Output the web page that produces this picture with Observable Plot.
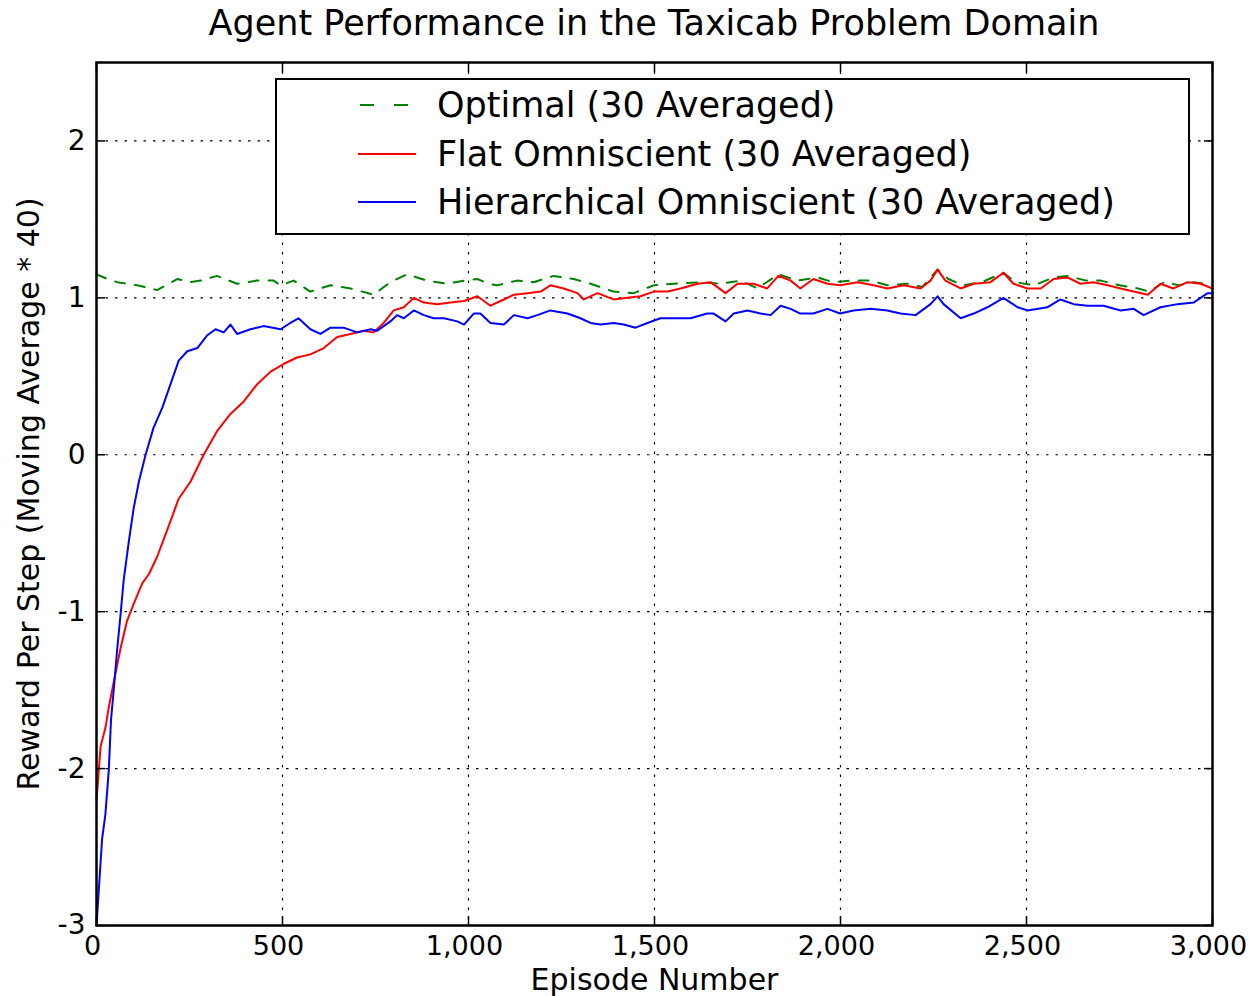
<!DOCTYPE html>
<html>
<head>
<meta charset="utf-8">
<script src="https://cdn.jsdelivr.net/npm/d3@7"></script>
<script src="https://cdn.jsdelivr.net/npm/@observablehq/plot@0.6"></script>
<style>
  html, body { margin: 0; padding: 0; background: #fff; }
  #wrap { position: relative; width: 1249px; height: 996px; font-family: "DejaVu Sans", sans-serif; color: #000; }
  #title { position: absolute; left: 96px; width: 1116px; top: 6px; text-align: center; font-size: 35px; line-height: 1; }
  #chart { position: absolute; left: 0; top: 48px; }
  #legend { position: absolute; left: 275px; top: 78px; width: 915px; height: 157px; box-sizing: border-box; border: 2px solid #000; background: #fff; }
  .row { position: absolute; left: 0; height: 40px; width: 100%; }
  .row svg { position: absolute; left: 81px; top: 0; }
  .row span { position: absolute; left: 160px; top: 0; height: 40px; line-height: 40px; font-size: 35px; white-space: nowrap; }
</style>
</head>
<body>
<div id="wrap">
  <div id="title">Agent Performance in the Taxicab Problem Domain</div>
  <div id="chart"></div>
  <div id="legend"></div>
</div>
<script>
// ---- data ----
const xTicks = [0, 500, 1000, 1500, 2000, 2500, 3000];
const yTicks = [-3, -2, -1, 0, 1, 2];

const seriesNames = ["Optimal (30 Averaged)", "Flat Omniscient (30 Averaged)", "Hierarchical Omniscient (30 Averaged)"];
const seriesColors = ["#008000", "#ff0000", "#0000ff"];

const optimalEpisodes = [0,30,56,109,163,217,250,280,324,378,432,476,495,530,575,629,683,745,790,835,889,943,988,1024,1054,1077,1131,1175,1229,1283,1328,1390,1444,1498,1551,1624,1677,1731,1777,1833,1884,1938,1980,2030,2080,2126,2180,2220,2261,2290,2330,2380,2438,2470,2520,2573,2610,2660,2700,2750,2800,2830,2870,2910,2950,3000];
const optimalValues = [1.15,1.12,1.10,1.08,1.05,1.12,1.10,1.11,1.14,1.09,1.11,1.11,1.08,1.11,1.04,1.08,1.06,1.02,1.10,1.15,1.11,1.09,1.11,1.12,1.09,1.08,1.11,1.10,1.14,1.12,1.09,1.04,1.03,1.08,1.09,1.10,1.09,1.11,1.06,1.15,1.11,1.13,1.10,1.11,1.11,1.08,1.09,1.07,1.18,1.12,1.08,1.10,1.16,1.10,1.08,1.13,1.14,1.11,1.11,1.08,1.06,1.04,1.10,1.08,1.10,1.08];

const flatEpisodes = [0,2,11,24,33,47,65,82,100,123,141,163,190,221,253,288,324,360,396,432,468,504,539,575,611,647,683,718,745,772,799,826,853,880,916,952,988,1024,1059,1086,1122,1159,1194,1220,1256,1293,1310,1347,1390,1427,1462,1498,1535,1570,1616,1651,1691,1723,1766,1803,1833,1866,1892,1927,1965,1999,2046,2089,2126,2170,2215,2242,2261,2282,2323,2358,2403,2438,2465,2503,2538,2573,2610,2645,2680,2718,2753,2788,2826,2860,2895,2933,2968,3000];
const flatValues = [-2.20,-2.14,-1.86,-1.74,-1.61,-1.44,-1.23,-1.06,-0.95,-0.82,-0.76,-0.65,-0.48,-0.28,-0.17,0.00,0.15,0.26,0.34,0.45,0.53,0.58,0.62,0.64,0.68,0.75,0.77,0.79,0.78,0.84,0.92,0.94,1.00,0.97,0.96,0.97,0.98,1.01,0.95,0.98,1.02,1.03,1.04,1.08,1.06,1.03,0.99,1.03,0.99,1.00,1.01,1.04,1.04,1.06,1.09,1.10,1.03,1.09,1.09,1.06,1.14,1.11,1.06,1.12,1.09,1.08,1.10,1.08,1.06,1.08,1.06,1.11,1.18,1.11,1.06,1.09,1.10,1.16,1.09,1.06,1.06,1.12,1.13,1.09,1.10,1.08,1.06,1.04,1.02,1.09,1.06,1.10,1.09,1.06];

const hierEpisodes = [0,15,24,33,39,47,56,65,73,87,100,114,132,153,177,199,221,244,271,297,320,342,360,378,414,449,495,521,543,575,602,629,664,701,737,754,790,808,826,853,880,906,934,970,988,1014,1032,1059,1095,1122,1159,1185,1220,1266,1301,1328,1355,1390,1417,1449,1481,1516,1551,1597,1642,1659,1691,1713,1750,1785,1812,1839,1866,1892,1927,1965,1999,2035,2081,2126,2161,2202,2242,2261,2277,2323,2358,2395,2438,2476,2503,2556,2591,2627,2664,2707,2753,2788,2815,2860,2906,2949,2987,3000];
const hierValues = [-3.00,-2.45,-2.29,-2.01,-1.69,-1.48,-1.23,-1.01,-0.80,-0.55,-0.34,-0.17,0.00,0.17,0.30,0.45,0.60,0.66,0.68,0.76,0.80,0.78,0.83,0.77,0.80,0.82,0.80,0.84,0.87,0.80,0.77,0.81,0.81,0.78,0.80,0.79,0.85,0.89,0.87,0.92,0.89,0.87,0.87,0.85,0.83,0.90,0.90,0.84,0.83,0.89,0.87,0.89,0.92,0.90,0.87,0.84,0.83,0.84,0.83,0.81,0.84,0.87,0.87,0.87,0.90,0.90,0.85,0.90,0.92,0.90,0.89,0.95,0.93,0.90,0.90,0.93,0.90,0.92,0.93,0.92,0.90,0.89,0.96,1.01,0.96,0.87,0.90,0.94,1.00,0.94,0.92,0.94,0.99,0.96,0.95,0.95,0.92,0.93,0.89,0.94,0.96,0.97,1.03,1.03];

const xLabel = "Episode Number";
const yLabel = "Reward Per Step (Moving Average * 40)";

// ---- build tables ----
const toRows = (eps, vals) => eps.map((e, i) => ({episode: e, value: vals[i]}));
const optimal = toRows(optimalEpisodes, optimalValues);
const flat = toRows(flatEpisodes, flatValues);
const hier = toRows(hierEpisodes, hierValues);

const dashOpt = "10,10";
const TICK = 9;
const noLabel = () => "";

const chart = Plot.plot({
  width: 1249,
  height: 948,
  marginLeft: 96,
  marginRight: 37,
  marginTop: 14,
  marginBottom: 71,
  style: {fontFamily: "DejaVu Sans, sans-serif", color: "#000", background: "#fff", overflow: "visible"},
  x: {domain: [0, 3000]},
  y: {domain: [-3, 2.5]},
  marks: [
    Plot.gridX(xTicks, {stroke: "#000", strokeOpacity: 1, strokeWidth: 1.2, strokeDasharray: "2.5,7"}),
    Plot.gridY(yTicks, {stroke: "#000", strokeOpacity: 1, strokeWidth: 1.2, strokeDasharray: "2.5,7"}),
    Plot.line(optimal, {x: "episode", y: "value", stroke: seriesColors[0], strokeWidth: 2, strokeDasharray: dashOpt}),
    Plot.line(flat, {x: "episode", y: "value", stroke: seriesColors[1], strokeWidth: 2}),
    Plot.line(hier, {x: "episode", y: "value", stroke: seriesColors[2], strokeWidth: 2}),
    // inward tick marks on all four sides
    Plot.axisX(xTicks, {anchor: "bottom", tickSize: -TICK, tickFormat: noLabel, label: null, strokeWidth: 1.5}),
    Plot.axisX(xTicks, {anchor: "top", tickSize: -TICK, tickFormat: noLabel, label: null, strokeWidth: 1.5}),
    Plot.axisY(yTicks, {anchor: "left", tickSize: -TICK, tickFormat: noLabel, label: null, strokeWidth: 1.5}),
    Plot.axisY(yTicks, {anchor: "right", tickSize: -TICK, tickFormat: noLabel, label: null, strokeWidth: 1.5}),
    // tick labels
    Plot.axisX(xTicks, {anchor: "bottom", tickSize: 0, tickPadding: 10, dx: -4, tickFormat: d3.format(","), fontSize: 27, label: null}),
    Plot.axisY(yTicks, {anchor: "left", tickSize: 0, tickPadding: 11, tickFormat: d => String(d), fontSize: 28, label: null}),
    Plot.text([xLabel], {frameAnchor: "bottom", dy: 55, lineAnchor: "middle", textAnchor: "middle", fontSize: 30, text: d => d}),
    Plot.text([yLabel], {frameAnchor: "left", dx: -67, rotate: -90, lineAnchor: "middle", textAnchor: "middle", fontSize: 30, text: d => d}),
    Plot.frame({stroke: "#000", strokeWidth: 2.5})
  ]
});
document.getElementById("chart").appendChild(chart);

// ---- legend ----
const legend = document.getElementById("legend");
const rowCenters = [27, 76, 124];
seriesNames.forEach((name, i) => {
  const row = document.createElement("div");
  row.className = "row";
  row.style.top = (rowCenters[i] - 2 - 20) + "px";
  const ns = "http://www.w3.org/2000/svg";
  const svg = document.createElementNS(ns, "svg");
  svg.setAttribute("width", 60);
  svg.setAttribute("height", 40);
  const ln = document.createElementNS(ns, "line");
  ln.setAttribute("y1", 20); ln.setAttribute("y2", 20);
  if (i === 0) {
    ln.setAttribute("x1", 2); ln.setAttribute("x2", 50);
    ln.setAttribute("stroke-dasharray", "14,20");
  } else {
    ln.setAttribute("x1", 0); ln.setAttribute("x2", 58);
  }
  ln.setAttribute("stroke", seriesColors[i]);
  ln.setAttribute("stroke-width", 2);
  svg.appendChild(ln);
  const span = document.createElement("span");
  span.textContent = name;
  row.appendChild(svg);
  row.appendChild(span);
  legend.appendChild(row);
});
</script>
</body>
</html>
